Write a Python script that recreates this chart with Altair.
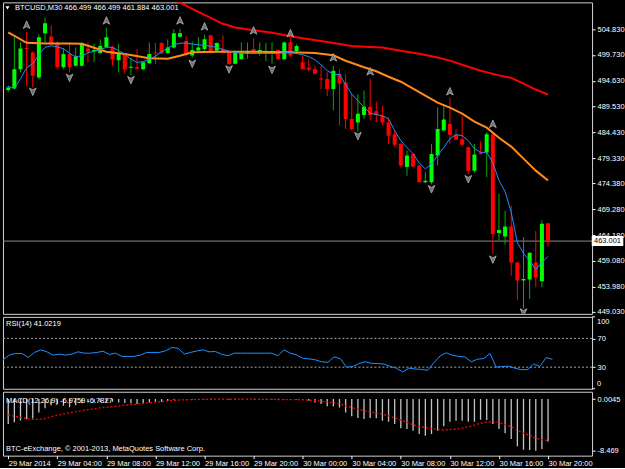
import altair as alt
import pandas as pd

FONT = "Liberation Sans"
FS = 7.5
FG = "#ffffff"

# ---------------- data ----------------
header = "BTCUSD,M30 466.499 466.499 461.884 463.001"
rsi_title = "RSI(14) 41.0219"
macd_title = "MACD(12,26,9) -6.9759 -6.7827"
copyright_text = "BTC-eExchange, \u00a9 2001-2013, MetaQuotes Software Corp."
last_price = 463.001

opens = [492.8, 493.1, 496.9, 501.1, 500.2, 495.3, 504.0, 503.3, 501.9, 497.3,
         499.9, 497.6, 497.6, 501.0, 500.5, 500.1, 501.3, 501.3, 498.7, 499.9,
         497.2, 497.3, 496.9, 498.1, 500.2, 502.1, 500.1, 501.2, 503.3, 502.5,
         499.6, 500.6, 500.9, 503.6, 500.6, 500.9, 500.5, 498.0, 498.9, 499.9,
         500.9, 499.9, 500.0, 500.2, 500.75, 498.9, 502.2, 500.5, 498.3, 497.2,
         496.9, 495.1, 495.0, 493.0, 496.0, 494.3, 487.1, 486.4, 487.9, 489.5,
         488.6, 487.7, 486.4, 484.1, 482.2, 477.6, 480.2, 477.9, 474.6, 474.6,
         479.9, 484.8, 486.1, 484.0, 483.1, 481.5, 476.9, 480.5, 480.5, 484.1,
         464.6, 463.9, 465.9, 458.8, 455.2, 455.4, 458.8, 455.1, 466.499]
highs = [493.6, 503.2, 502.2, 504.3, 500.4, 503.8, 507.1, 505.5, 502.5, 501.0,
         501.9, 501.2, 502.2, 502.2, 501.9, 502.8, 505.1, 501.5, 501.9, 500.0,
         499.2, 500.9, 498.5, 502.2, 502.1, 502.2, 502.8, 504.8, 504.9, 503.5,
         502.4, 503.2, 503.7, 503.7, 502.2, 503.6, 500.6, 500.6, 502.2, 502.2,
         503.0, 502.2, 502.1, 502.2, 500.8, 502.4, 503.0, 501.8, 499.6, 498.9,
         497.6, 497.6, 496.3, 497.6, 496.9, 496.0, 492.0, 492.0, 492.7, 495.0,
         490.5, 489.7, 487.4, 484.8, 482.3, 480.9, 480.3, 478.0, 476.6, 482.2,
         489.4, 490.0, 491.3, 485.1, 487.7, 481.6, 482.2, 482.7, 484.5, 484.5,
         472.3, 469.0, 470.0, 458.9, 463.8, 460.8, 465.0, 467.1, 466.499]
lows = [492.4, 492.9, 496.3, 493.6, 493.3, 495.0, 502.2, 501.8, 496.9, 496.9,
        496.3, 497.5, 497.5, 498.3, 498.3, 499.9, 501.1, 497.6, 496.3, 496.0,
        495.8, 496.9, 496.7, 497.9, 497.9, 500.0, 500.0, 501.0, 503.2, 499.5,
        499.2, 500.2, 500.6, 500.0, 500.4, 500.2, 497.9, 497.9, 498.9, 499.0,
        499.9, 499.6, 498.5, 498.0, 498.8, 498.8, 499.3, 499.9, 496.9, 496.5,
        495.9, 493.0, 491.6, 488.8, 485.8, 485.1, 484.8, 484.6, 487.1, 486.8,
        486.5, 485.8, 482.2, 481.5, 477.5, 475.9, 477.5, 474.6, 474.4, 474.2,
        477.9, 484.6, 482.2, 482.9, 481.8, 476.2, 476.5, 480.1, 475.6, 460.5,
        463.1, 462.3, 456.2, 451.3, 449.7, 451.6, 453.9, 453.9, 461.884]
closes = [493.3, 496.9, 501.0, 500.9, 495.6, 503.2, 506.0, 501.9, 497.3, 499.9,
          497.3, 499.4, 502.1, 500.4, 500.7, 501.5, 503.2, 498.9, 500.0, 496.9,
          497.4, 497.0, 498.3, 499.9, 500.0, 500.0, 501.2, 504.0, 504.0, 499.7,
          500.7, 501.2, 502.8, 500.2, 502.1, 500.2, 497.9, 500.5, 500.2, 500.4,
          500.2, 500.7, 500.5, 500.4, 498.9, 502.2, 499.6, 501.5, 496.9, 496.8,
          496.0, 494.9, 493.0, 496.6, 494.1, 487.1, 485.1, 488.1, 489.5, 487.9,
          487.9, 486.4, 483.8, 482.0, 477.9, 479.9, 477.7, 474.6, 474.9, 480.2,
          485.1, 487.0, 484.0, 483.0, 482.0, 476.9, 480.1, 480.2, 484.1, 464.4,
          465.2, 465.9, 458.8, 455.2, 455.5, 460.7, 455.8, 466.4, 463.001]

ma_fast = [493.5, 493.16, 495.03, 497.2, 497.99, 499.76, 501.24, 501.54, 501.34, 500.94,
           500.06, 499.37, 499.56, 500.16, 500.45, 500.75, 501.24, 501.24, 500.55, 499.9,
           498.88, 498.25, 498.38, 498.88, 499.47, 500.35, 501.04, 501.73, 502.03, 502.07,
           501.87, 501.73, 501.63, 501.44, 501.2, 500.85, 500.45, 500.22, 500.02, 500.02,
           500.02, 500.02, 500.02, 500.02, 500.02, 500.16, 500.25, 500.0, 499.8, 499.37,
           498.78, 497.79, 496.61, 495.96, 495.82, 493.85, 492.0, 490.7, 489.4, 488.24,
           487.94, 487.75, 487.15, 484.79, 482.82, 481.44, 480.26, 478.39, 477.24, 478.23,
           479.87, 481.44, 483.21, 484.0, 483.8, 482.82, 481.24, 480.52, 480.52, 478.49,
           474.94, 472.77, 468.64, 462.73, 460.56, 459.18, 457.41, 458.79, 459.97]

ma_mid_k = [0, 3, 6, 10, 12, 14, 16, 19, 23, 26, 28, 30, 34, 40, 46, 50, 53, 55, 58, 60,
            62, 64, 66, 68, 70, 72, 74, 76, 78, 80, 82, 84, 86, 88]
ma_mid = [504.16, 502.13, 501.99, 501.99, 501.93, 501.14, 500.35, 499.9, 499.07, 498.97,
          499.56, 500.25, 500.35, 500.35, 500.25, 500.1, 499.66, 498.58, 497.3, 496.51,
          495.43, 494.44, 493.06, 491.69, 490.31, 489.32, 488.14, 486.56, 485.38, 483.4,
          481.64, 479.27, 476.9, 474.94]

ma_slow_k = [27, 28, 30, 32, 35, 37, 40, 43, 46, 48, 51, 53, 56, 59, 61, 64, 67, 70, 72,
             75, 77, 80, 82, 84, 86, 88]
ma_slow = [510.5, 510.07, 508.8, 507.64, 505.87, 505.14, 504.6, 504.1, 503.4, 503.01,
           502.5, 502.1, 501.5, 501.3, 501.2, 500.55, 499.96, 499.23, 498.6, 497.4,
           496.6, 495.7, 495.2, 494.05, 492.9, 491.9]

up_frac_k = [3, 16, 28, 32, 40, 46, 53, 59, 72, 79]
up_frac_price = [505.61, 506.46, 506.46, 505.28, 504.49, 503.96, 499.17, 496.41, 492.47, 486.07]
dn_frac_k = [4, 10, 20, 30, 36, 43, 57, 69, 75, 79, 84]
dn_frac_price = [492.53, 495.29, 494.84, 498.05, 496.95, 496.87, 483.8, 473.31, 475.28, 459.42, 448.99]

rsi = [40.5, 47, 49.1, 49.1, 43.6, 50.5, 54.1, 51.4, 46.8, 48.2,
       46.8, 48.2, 51.4, 49.5, 49.5, 50.5, 52.3, 47.7, 49.5, 45,
       45, 45, 46.8, 50.5, 50.5, 50.5, 52.7, 57.3, 56.4, 48.2,
       50.5, 52.5, 54.1, 51.4, 51.8, 48, 45.9, 49.5, 49.5, 49.5,
       49.5, 49.5, 49.5, 49.5, 45.9, 54.1, 49.5, 47, 42.3, 41.5,
       40.3, 37.5, 36.7, 44.2, 42.0, 30.0, 30.9, 35, 37.6, 35.4,
       35, 34.5, 31, 28.7, 23.4, 28.7, 27.5, 26.9, 25.6, 36,
       45.6, 50.0, 46.5, 45, 44.2, 37.6, 41.1, 42.0, 49.1, 30.0,
       31, 31.4, 28.7, 26.5, 26.5, 34.5, 30.9, 43.4, 41.0219]
rsi_levels = [70, 30]
rsi_max, rsi_min = 100, 0

macd_hist = [-4.1, -3.8, -3.5, -3.3, -3.2, -2.2, -1.5, -1.0, -0.85, -1.1,
             -1.35, -1.0, -0.7, -0.55, -0.55, -0.5, -0.45, -0.45, -0.55, -0.65,
             -0.7, -0.8, -0.65, -0.55, -0.45, -0.45, -0.3, -0.12, -0.02, -0.05,
             -0.08, -0.05, -0.02, -0.03, -0.01, -0.03, -0.1, -0.06, -0.04, -0.03,
             -0.02, -0.04, -0.05, -0.06, -0.1, -0.05, -0.06, -0.08, -0.11, -0.27,
             -0.55, -0.82, -1.2, -1.2, -1.37, -2.19, -2.84, -3.11, -3.28, -3.11,
             -3.17, -3.55, -3.72, -4.1, -4.81, -4.92, -5.19, -5.74, -6.01, -5.74,
             -5.19, -4.48, -3.72, -3.55, -3.55, -3.72, -3.72, -3.39, -3.44, -4.1,
             -4.92, -5.63, -6.56, -7.76, -8.31, -8.35, -8.469, -8.2, -6.9759]
macd_signal = [-2.6, -2.8, -3.0, -3.2, -3.35, -3.35, -3.2, -2.9, -2.65, -2.45,
               -2.25, -2.05, -1.9, -1.75, -1.6, -1.45, -1.35, -1.25, -1.15, -1.0,
               -0.9, -0.82, -0.72, -0.62, -0.52, -0.42, -0.3, -0.22, -0.16, -0.12,
               -0.09, -0.06, -0.04, -0.03, -0.02, -0.01, 0.0, 0.0045, -0.01, -0.02,
               -0.03, -0.04, -0.05, -0.06, -0.07, -0.08, -0.09, -0.1, -0.12, -0.18,
               -0.26, -0.36, -0.46, -0.58, -0.8, -1.1, -1.38, -1.65, -1.92, -2.1,
               -2.3, -2.46, -2.75, -3.1, -3.45, -3.8, -4.2, -4.5, -4.7, -4.85,
               -4.98, -5.08, -5.02, -4.92, -4.78, -4.55, -4.3, -3.95, -3.8, -3.72,
               -3.85, -4.15, -4.55, -5.1, -5.6, -6.0, -6.4, -6.7, -6.7827]
macd_ticks = [0.0045, -8.469]
macd_tick_labels = ["0.0045", "-8.469"]

price_ticks = [504.83, 499.73, 494.63, 489.53, 484.43, 479.33, 474.38,
               469.28, 464.18, 459.08, 453.98, 449.03]
time_labels = ["29 Mar 2014", "29 Mar 04:00", "29 Mar 08:00", "29 Mar 12:00",
               "29 Mar 16:00", "29 Mar 20:00", "30 Mar 00:00", "30 Mar 04:00",
               "30 Mar 08:00", "30 Mar 12:00", "30 Mar 16:00", "30 Mar 20:00"]
time_tick_k = [0, 8, 16, 24, 32, 40, 48, 56, 64, 72, 80, 88]

# ---------------- tables ----------------
N = len(opens)
kk = list(range(N))
candles = pd.DataFrame({"k": kk, "open": opens, "high": highs, "low": lows, "close": closes})
blue_df = pd.DataFrame({"k": kk, "v": ma_fast})
orange_df = pd.DataFrame({"k": ma_mid_k, "v": ma_mid})
red_df = pd.DataFrame({"k": ma_slow_k, "v": ma_slow})
up_df = pd.DataFrame({"k": up_frac_k, "v": up_frac_price})
dn_df = pd.DataFrame({"k": dn_frac_k, "v": dn_frac_price})
rsi_df = pd.DataFrame({"k": kk, "v": rsi})
macd_df = pd.DataFrame({"k": kk, "hist": macd_hist, "sig": macd_signal})
last_df = pd.DataFrame({"p": [last_price], "t": [f"{last_price:.3f}"]})

W = 590
H_MAIN, H_RSI, H_MACD = 312, 72, 64

xs = alt.Scale(domain=[-0.04, 94.36], nice=False, zero=False)
ys = alt.Scale(domain=[448.64, 510.10], nice=False, zero=False)
rsi_scale = alt.Scale(domain=[rsi_min, rsi_max], nice=False, zero=False)
macd_scale = alt.Scale(domain=[-9.29, 1.2], nice=False, zero=False)

common_axis = dict(title=None, grid=False, domain=False, tickSize=3, tickColor=FG,
                   labelColor=FG, labelFont=FONT, labelFontSize=FS, labelOverlap=False)

price_axis = alt.Axis(orient="right", values=price_ticks, format=".3f", labelPadding=2,
                      labelFlush=False, **common_axis)
rsi_axis = alt.Axis(orient="right", values=rsi_levels, format="d", labelPadding=2,
                    labelFlush=False, **common_axis)
macd_expr = "".join(f"abs(datum.value - ({v})) < 1e-6 ? '{l}' : " for v, l in zip(macd_ticks, macd_tick_labels)) + "''"
macd_axis = alt.Axis(orient="right", values=macd_ticks, labelExpr=macd_expr, labelPadding=2,
                     labelFlush=False, **common_axis)
time_expr = "[" + ",".join(f"'{s}'" for s in time_labels) + "][round(datum.value/8)]"
time_axis = alt.Axis(orient="bottom", values=time_tick_k, labelExpr=time_expr, labelAlign="left",
                     labelBaseline="top", labelPadding=1, labelFlush=False, **common_axis)

def X():
    return alt.X("k:Q", scale=xs, axis=None)

def Yp(f):
    return alt.Y(f, scale=ys, axis=price_axis)

bull = alt.datum.close >= alt.datum.open

# ---------------- main panel ----------------
price_rule = alt.Chart(last_df).mark_rule(color="#8c8c8c", strokeWidth=1).encode(y=Yp("p:Q"))
wicks = alt.Chart(candles).mark_rule(strokeWidth=1, clip=True).encode(
    x=X(), y=Yp("low:Q"), y2="high:Q",
    color=alt.condition(bull, alt.value("#00b000"), alt.value("#ff0000")))
bodies = alt.Chart(candles).mark_bar(width=4, clip=True).encode(
    x=X(), y=Yp("open:Q"), y2="close:Q",
    color=alt.condition(bull, alt.value("#00ff00"), alt.value("#ff0000")))
red_line = alt.Chart(red_df).mark_line(color="#ff0000", strokeWidth=2, clip=True).encode(x=X(), y=Yp("v:Q"))
orange_line = alt.Chart(orange_df).mark_line(color="#ff8c1a", strokeWidth=2, clip=True).encode(x=X(), y=Yp("v:Q"))
blue_line = alt.Chart(blue_df).mark_line(color="#1e90ff", strokeWidth=1, clip=True).encode(x=X(), y=Yp("v:Q"))
up_shape = "M0,-1L0.8,0.8L0,0.35L-0.8,0.8Z"
dn_shape = "M0,1L0.8,-0.8L0,-0.35L-0.8,-0.8Z"
up_pts = alt.Chart(up_df).mark_point(shape=up_shape, size=70, filled=True, fill="#6e6e6e",
                                     stroke="#b4b4b4", strokeWidth=0.8, opacity=1, clip=True).encode(x=X(), y=Yp("v:Q"))
dn_pts = alt.Chart(dn_df).mark_point(shape=dn_shape, size=70, filled=True, fill="#6e6e6e",
                                     stroke="#b4b4b4", strokeWidth=0.8, opacity=1, clip=True).encode(x=X(), y=Yp("v:Q"))
box = alt.Chart(last_df).mark_point(shape="M-3.16,-1L3.16,-1L3.16,1L-3.16,1Z", size=100, filled=True,
                                    fill="#ffffff", opacity=1, strokeWidth=0).encode(
    x=alt.value(605.5), y=Yp("p:Q"))
box_text = alt.Chart(last_df).mark_text(font=FONT, fontSize=FS, color="#000000", align="center",
                                        baseline="middle").encode(x=alt.value(605.5), y=Yp("p:Q"), text="t:N")
tri = alt.Chart(pd.DataFrame({"t": [0]})).mark_point(shape="triangle-down", size=16, filled=True,
                                                     color=FG, opacity=1).encode(x=alt.value(4.5), y=alt.value(5.5))
head = alt.Chart(pd.DataFrame({"t": [header]})).mark_text(font=FONT, fontSize=FS, color=FG, align="left",
                                                          baseline="middle").encode(
    x=alt.value(12), y=alt.value(6), text="t:N")

main = alt.layer(price_rule, wicks, bodies, red_line, orange_line, blue_line, up_pts, dn_pts,
                 box, box_text, tri, head).properties(width=W, height=H_MAIN)

# ---------------- RSI panel ----------------
def RY(f):
    return alt.Y(f, scale=rsi_scale, axis=rsi_axis)

rsi_lv = alt.Chart(pd.DataFrame({"lvl": rsi_levels})).mark_rule(color="#a8a8a8", strokeDash=[2, 2],
                                                                strokeWidth=1).encode(y=RY("lvl:Q"))
rsi_line = alt.Chart(rsi_df).mark_line(color="#1e90ff", strokeWidth=1, clip=True).encode(x=X(), y=RY("v:Q"))
rsi_txt = alt.Chart(pd.DataFrame({"t": [rsi_title]})).mark_text(font=FONT, fontSize=FS, color=FG, align="left",
                                                                baseline="middle").encode(
    x=alt.value(3), y=alt.value(7.5), text="t:N")
# range-end labels of the RSI scale (drawn flush inside the panel, as in the terminal)
ends = pd.DataFrame({"v": [rsi_max, rsi_min], "t": [str(rsi_max), str(rsi_min)]})
rsi_end_ticks = alt.Chart(ends).mark_rule(color=FG, strokeWidth=1).encode(
    x=alt.value(W), x2=alt.value(W + 3), y=RY("v:Q"))
rsi_top_lbl = alt.Chart(ends).transform_filter(alt.datum.v == rsi_max).mark_text(
    font=FONT, fontSize=FS, color=FG, align="left", baseline="top", dy=1).encode(
    x=alt.value(W + 5), y=RY("v:Q"), text="t:N")
rsi_bot_lbl = alt.Chart(ends).transform_filter(alt.datum.v == rsi_min).mark_text(
    font=FONT, fontSize=FS, color=FG, align="left", baseline="bottom", dy=-1).encode(
    x=alt.value(W + 5), y=RY("v:Q"), text="t:N")
rsi_panel = alt.layer(rsi_lv, rsi_line, rsi_end_ticks, rsi_top_lbl, rsi_bot_lbl, rsi_txt).properties(
    width=W, height=H_RSI)

# ---------------- MACD panel ----------------
XT = alt.X("k:Q", scale=xs, axis=time_axis)
bars = alt.Chart(macd_df).mark_bar(width=1.3, color="#c4c4c4", clip=True).encode(
    x=XT, y=alt.Y("hist:Q", scale=macd_scale, axis=macd_axis), y2=alt.datum(0))
sig = alt.Chart(macd_df).mark_line(color="#ff0000", strokeDash=[2, 2], strokeWidth=1.3, clip=True).encode(
    x=XT, y=alt.Y("sig:Q", scale=macd_scale, axis=macd_axis))
macd_txt = alt.Chart(pd.DataFrame({"t": [macd_title]})).mark_text(font=FONT, fontSize=FS, color=FG, align="left",
                                                                  baseline="middle").encode(
    x=alt.value(3), y=alt.value(9), text="t:N")
copy_txt = alt.Chart(pd.DataFrame({"t": [copyright_text]})).mark_text(font=FONT, fontSize=FS, color=FG,
                                                                      align="left", baseline="middle").encode(
    x=alt.value(3), y=alt.value(57.5), text="t:N")
macd_panel = alt.layer(bars, sig, macd_txt, copy_txt).properties(width=W, height=H_MACD)

chart = alt.vconcat(main, rsi_panel, macd_panel, spacing=3, bounds="flush").resolve_scale(
    y="independent").properties(
    padding={"left": 2, "top": 1, "right": 0, "bottom": 0}
).configure(background="#000000", font=FONT).configure_view(stroke="#d0d0d0", strokeWidth=1)

chart.save("out.html", embed_options={"renderer": "svg", "actions": False})
